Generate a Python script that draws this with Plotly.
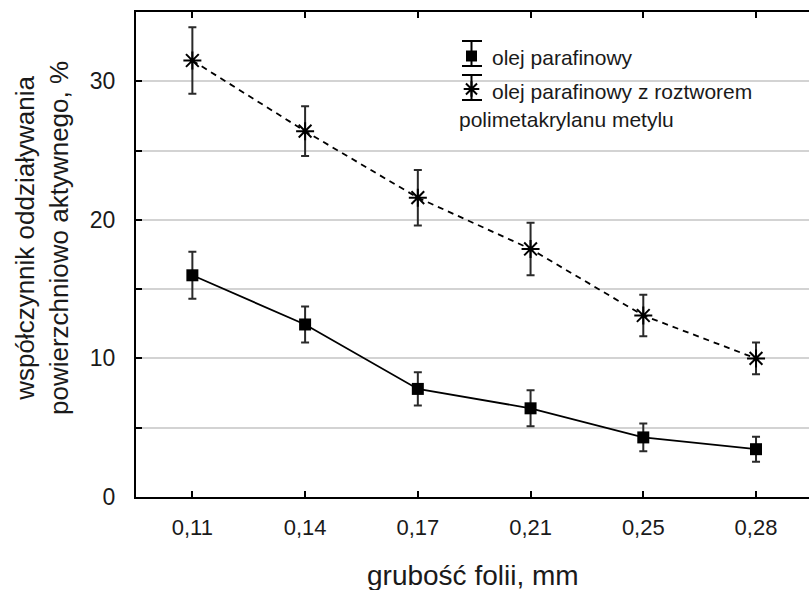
import plotly.graph_objects as go

categories = ["0,11", "0,14", "0,17", "0,21", "0,25", "0,28"]
olej = [16.0, 12.45, 7.8, 6.4, 4.3, 3.45]
olej_err = [1.7, 1.3, 1.2, 1.3, 1.0, 0.9]
olej_pmma = [31.5, 26.4, 21.6, 17.9, 13.1, 10.0]
olej_pmma_err = [2.4, 1.8, 2.0, 1.9, 1.5, 1.15]
y_tickvals = [0, 5, 10, 15, 20, 25, 30]
y_ticktext = ["0", "", "10", "", "20", "", "30"]

FONT = "Liberation Sans, Arial, sans-serif"
TXT = "#1a1a1a"
W, H = 809, 590
L, R, T, B = 136, 0, 12, 93
pw, ph = W - L - R, H - T - B

def px(x):
    return (x - L) / pw

def py(y):
    return (H - B - y) / ph

fig = go.Figure()
fig.add_trace(go.Scatter(
    x=categories, y=olej, mode="lines+markers", name="olej parafinowy",
    line=dict(color="black", width=1.8),
    marker=dict(symbol="square", size=12, color="black"),
    error_y=dict(type="data", array=olej_err, visible=True, color="#2a2a2a", thickness=2, width=4),
    showlegend=False,
))
fig.add_trace(go.Scatter(
    x=categories, y=olej_pmma, mode="lines+markers",
    name="olej parafinowy z roztworem polimetakrylanu metylu",
    line=dict(color="black", width=1.8, dash="6px,5px"),
    marker=dict(symbol="asterisk-open", size=15, color="black", line=dict(color="black", width=2)),
    error_y=dict(type="data", array=olej_pmma_err, visible=True, color="#2a2a2a", thickness=2, width=4),
    showlegend=False,
))

# legend markers on an overlay axis spanning the plot area (0..1)
fig.add_trace(go.Scatter(
    x=[px(471.5)], y=[py(56)], xaxis="x2", yaxis="y2", mode="markers",
    marker=dict(symbol="square", size=11, color="black"), showlegend=False, hoverinfo="skip",
))
fig.add_trace(go.Scatter(
    x=[px(471.5)], y=[py(89)], xaxis="x2", yaxis="y2", mode="markers",
    marker=dict(symbol="asterisk-open", size=13, color="black", line=dict(color="black", width=2)),
    showlegend=False, hoverinfo="skip",
))

shapes = []
for (ytop, ybot) in [(41, 66), (75, 100)]:
    shapes.append(dict(type="line", xref="paper", yref="paper", x0=px(471.5), x1=px(471.5),
                       y0=py(ytop), y1=py(ybot), line=dict(color="black", width=2)))
    for yy in (ytop, ybot):
        shapes.append(dict(type="line", xref="paper", yref="paper", x0=px(462), x1=px(482),
                           y0=py(yy), y1=py(yy), line=dict(color="black", width=2)))

annotations = [
    dict(text="olej parafinowy", x=px(490), y=py(57), xref="paper", yref="paper",
         xanchor="left", yanchor="middle", showarrow=False, font=dict(family=FONT, size=21, color=TXT)),
    dict(text="olej parafinowy z roztworem", x=px(490), y=py(92), xref="paper", yref="paper",
         xanchor="left", yanchor="middle", showarrow=False, font=dict(family=FONT, size=21, color=TXT)),
    dict(text="polimetakrylanu metylu", x=px(457), y=py(119), xref="paper", yref="paper",
         xanchor="left", yanchor="middle", showarrow=False, font=dict(family=FONT, size=21, color=TXT)),
    dict(text="współczynnik oddziaływania<br>powierzchniowo aktywnego, %", textangle=-90,
         x=px(42), y=py(238), xref="paper", yref="paper", xanchor="center", yanchor="middle",
         showarrow=False, font=dict(family=FONT, size=26, color=TXT)),
    dict(text="grubość folii, mm", x=0.5, y=py(575), xref="paper", yref="paper",
         xanchor="center", yanchor="middle", showarrow=False, font=dict(family=FONT, size=28, color=TXT)),
]

fig.update_layout(
    width=W, height=H,
    margin=dict(l=L, r=R, t=T, b=B, pad=0),
    paper_bgcolor="white", plot_bgcolor="white",
    font=dict(family=FONT, color=TXT),
    shapes=shapes, annotations=annotations,
    xaxis=dict(
        type="category", range=[-0.5, 5.47],
        showline=True, linecolor="black", linewidth=2, mirror="ticks",
        ticks="inside", ticklen=6, tickwidth=2, tickcolor="black",
        showgrid=False, zeroline=False,
        tickfont=dict(family=FONT, size=22, color=TXT), ticklabelstandoff=10,
    ),
    yaxis=dict(
        range=[0, 35], tickvals=y_tickvals, ticktext=y_ticktext,
        showline=True, linecolor="black", linewidth=2,
        ticks="inside", ticklen=6, tickwidth=2, tickcolor="black",
        showgrid=True, gridcolor="#d3d3d3", gridwidth=2, zeroline=False,
        tickfont=dict(family=FONT, size=23, color=TXT), ticklabelstandoff=14,
    ),
    xaxis2=dict(range=[0, 1], overlaying="x", visible=False, fixedrange=True),
    yaxis2=dict(range=[0, 1], overlaying="y", visible=False, fixedrange=True),
)

fig.write_html("out.html")
